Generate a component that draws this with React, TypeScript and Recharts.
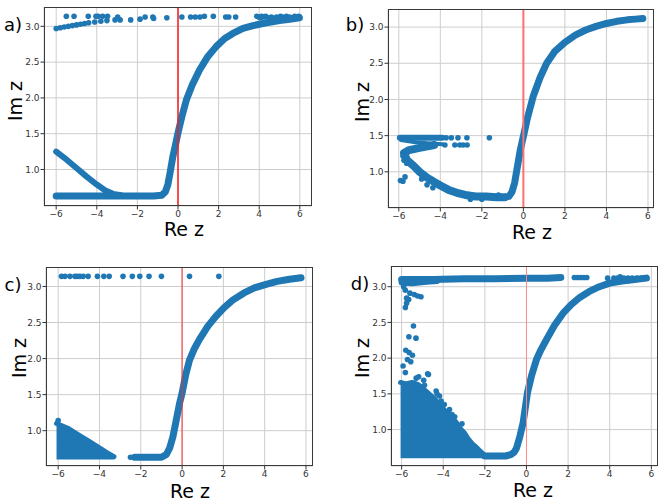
import React from 'react';
import {
  ComposedChart, Line, Area, Scatter, XAxis, YAxis, CartesianGrid, ReferenceLine,
} from 'recharts';

const BLUE = '#1f77b4';
const FONT = '"DejaVu Sans", Verdana, sans-serif';

const xTicks = [-6, -4, -2, 0, 2, 4, 6];
const yTicks = [1.0, 1.5, 2.0, 2.5, 3.0];

// ---- panel a ----
const sigA = [[-6, 0.63], [-4.5, 0.63], [-3, 0.63], [-2, 0.63], [-1.2, 0.63], [-0.8, 0.64], [-0.62, 0.69], [-0.5, 0.79], [-0.38, 0.97], [-0.26, 1.17], [-0.12, 1.35], [0, 1.51], [0.2, 1.75], [0.41, 1.97], [0.7, 2.18], [1.06, 2.39], [1.45, 2.57], [1.89, 2.72], [2.3, 2.83], [2.7, 2.9], [3.2, 2.97], [3.7, 3.01], [4.36, 3.05], [5.0, 3.08], [5.5, 3.1], [5.98, 3.12]];
const fallA = [[-6, 1.25], [-5.5, 1.14], [-5, 1.02], [-4.5, 0.9], [-4, 0.79], [-3.6, 0.71], [-3.2, 0.66], [-2.8, 0.64]];
const dotsA = [
  [-6.0, 2.97], [-5.8, 2.98], [-5.6, 2.99], [-5.4, 3.0], [-5.2, 3.01], [-5.0, 3.02], [-4.8, 3.03], [-4.6, 3.04], [-4.4, 3.05], [-4.1, 3.06], [-3.8, 3.07], [-3.5, 3.08], [-3.1, 3.09], [-2.85, 3.09], [-2.33, 3.09], [-1.87, 3.1],
  [-5.5, 3.14], [-5.12, 3.14], [-4.42, 3.14], [-4.04, 3.14], [-3.93, 3.14], [-3.71, 3.14], [-3.47, 3.14], [-2.97, 3.13], [-1.62, 3.13], [-1.24, 3.13], [-1.2, 3.11], [-0.55, 3.12], [0.19, 3.13], [0.62, 3.13], [0.85, 3.13], [1.08, 3.13], [1.3, 3.14], [1.74, 3.14], [2.35, 3.13], [2.5, 3.13], [2.84, 3.13],
  [3.88, 3.14], [3.98, 3.13], [4.05, 3.12], [4.12, 3.14], [4.22, 3.13], [4.32, 3.14], [4.45, 3.12], [4.6, 3.13], [4.85, 3.13], [5.05, 3.14], [5.15, 3.13], [5.34, 3.14], [5.5, 3.13], [5.75, 3.14], [5.95, 3.14],
];

// ---- panel b ----
const topB = [[-5.95, 1.47], [-4.6, 1.47], [-3.9, 1.47]];
const armB = [[-5.9, 1.44], [-5.2, 1.41], [-4.5, 1.39], [-3.9, 1.38]];
const hookB = [[-4.3, 1.37], [-5.0, 1.33], [-5.5, 1.3], [-5.75, 1.26], [-5.6, 1.16], [-5.28, 1.08], [-5.0, 1.0], [-4.64, 0.92], [-4.3, 0.86], [-4.0, 0.81], [-3.6, 0.75], [-3.2, 0.71], [-2.8, 0.68], [-2.3, 0.66], [-1.8, 0.66], [-1.3, 0.65], [-0.9, 0.65]];
const sigB = [[-0.9, 0.65], [-0.7, 0.66], [-0.55, 0.72], [-0.42, 0.85], [-0.3, 1.05], [-0.15, 1.3], [0, 1.49], [0.2, 1.75], [0.47, 2.04], [0.8, 2.3], [1.12, 2.5], [1.5, 2.66], [2.0, 2.79], [2.5, 2.89], [3.0, 2.96], [3.5, 3.01], [4.0, 3.05], [4.5, 3.08], [5.0, 3.1], [5.4, 3.11], [5.75, 3.12]];
const dotsB = [
  [-3.72, 1.47], [-3.47, 1.47], [-3.15, 1.47], [-2.72, 1.47], [-1.64, 1.47],
  [-3.78, 1.37], [-3.3, 1.37], [-3.06, 1.37], [-2.9, 1.37], [-2.71, 1.37],
  [-5.8, 1.22], [-5.75, 1.16], [-5.62, 1.12],
  [-5.92, 0.88], [-5.8, 0.87], [-5.7, 0.93], [-4.64, 0.82], [-4.36, 0.78], [-4.9, 0.9],
  [-2.55, 0.62], [-2.0, 0.62], [-1.2, 0.68],
];

// ---- panel c ----
const sigC = [[-2.3, 0.63], [-1.5, 0.63], [-1.0, 0.63], [-0.76, 0.67], [-0.6, 0.76], [-0.44, 0.92], [-0.28, 1.15], [-0.12, 1.38], [0, 1.52], [0.18, 1.78], [0.36, 1.98], [0.6, 2.14], [0.85, 2.27], [1.25, 2.45], [1.65, 2.59], [2.05, 2.71], [2.45, 2.81], [3.0, 2.91], [3.5, 2.98], [4.07, 3.03], [4.6, 3.07], [5.2, 3.1], [5.76, 3.12]];
const triC = [[-6.08, 1.1], [-5.5, 1.03], [-5.0, 0.94], [-4.5, 0.85], [-4.0, 0.76], [-3.6, 0.69], [-3.3, 0.64]];
const dotsC = [
  [-5.84, 3.14], [-5.67, 3.14], [-5.43, 3.14], [-5.19, 3.14], [-5.08, 3.14], [-4.95, 3.14], [-4.79, 3.14], [-4.55, 3.14], [-4.1, 3.14], [-3.79, 3.14], [-3.53, 3.14], [-2.86, 3.14], [-2.41, 3.14], [-2.05, 3.14], [-1.6, 3.14], [-1.0, 3.14], [0.36, 3.14], [1.78, 3.14],
  [-6.0, 1.14], [-2.5, 0.63],
];

// ---- panel d ----
const sigD = [[-2.0, 0.63], [-1.5, 0.63], [-1.0, 0.63], [-0.75, 0.65], [-0.6, 0.68], [-0.48, 0.74], [-0.32, 0.9], [-0.16, 1.1], [0.05, 1.52], [0.25, 1.76], [0.48, 1.98], [0.7, 2.12], [0.96, 2.26], [1.35, 2.46], [1.76, 2.63], [2.15, 2.75], [2.56, 2.85], [3.0, 2.93], [3.5, 3.0], [4.0, 3.05], [4.6, 3.08], [5.2, 3.1], [5.76, 3.12]];
const bandD = [[-6.0, 3.1], [-4.5, 3.1], [-3.0, 3.11], [-1.5, 3.11], [0, 3.12], [1.0, 3.12], [1.65, 3.13]];
const bandLowD = [[-6.0, 3.06], [-5.5, 3.05], [-4.8, 3.07], [-4.3, 3.08]];
const blobD = [[-6.05, 1.66], [-5.8, 1.64], [-5.5, 1.66], [-5.2, 1.63], [-5.0, 1.58], [-4.8, 1.53], [-4.6, 1.48], [-4.4, 1.43], [-4.2, 1.35], [-4.0, 1.29], [-3.8, 1.23], [-3.6, 1.17], [-3.4, 1.11], [-3.2, 1.02], [-3.0, 0.96], [-2.8, 0.87], [-2.6, 0.8], [-2.4, 0.75], [-2.2, 0.69], [-2.0, 0.64]];
const dotsD = [
  [2.3, 3.13], [2.45, 3.13], [2.6, 3.13], [2.75, 3.13], [2.9, 3.13], [3.9, 3.12], [4.2, 3.12], [4.38, 3.12], [4.5, 3.14], [4.68, 3.12], [4.88, 3.12], [5.08, 3.12], [5.3, 3.12], [5.55, 3.12], [5.77, 3.12],
  [-5.9, 3.0], [-5.82, 2.95], [-5.76, 2.84], [-5.6, 2.91], [-5.66, 2.82], [-5.76, 2.77], [-5.82, 2.71], [-5.39, 2.89], [-5.23, 2.87], [-5.07, 2.86],
  [-5.43, 2.45], [-5.65, 2.3], [-5.31, 2.28],
  [-5.8, 2.11], [-5.64, 2.08], [-5.48, 2.04], [-5.72, 1.98], [-5.56, 1.95], [-5.93, 1.89], [-5.82, 1.8],
  [-4.75, 1.78], [-4.71, 1.77], [-4.94, 1.69], [-5.18, 1.74], [-5.3, 1.72], [-4.9, 1.62],
  [-4.34, 1.54], [-4.18, 1.47], [-4.1, 1.4], [-4.3, 1.5], [-3.95, 1.35], [-3.7, 1.28], [-3.58, 1.21], [-3.45, 1.18], [-3.1, 1.08],
];

const pts = (arr: number[][]) => arr.map(([x, y]) => ({ x, y }));
const fmtX = (v: number) => (v < 0 ? `\u2212${Math.abs(v)}` : String(v));
const tickStyle = { fontSize: 9, fill: '#333', fontFamily: FONT };

type Band = { data: number[][]; w: number };

function Panel({ box, xDomain, yDomain, bands, areas = [], dots, red, redW }: any) {
  return (
    <div style={{ position: 'absolute', left: box.left - 40, top: box.top }}>
      <ComposedChart width={box.width + 40} height={box.height + 20} margin={{ top: 0, right: 0, bottom: 0, left: 0 }}>
        <CartesianGrid stroke="#cdcdcd" />
        <XAxis
          type="number" dataKey="x" domain={xDomain} ticks={xTicks} tickFormatter={fmtX}
          tick={tickStyle} tickSize={3.5} tickMargin={1} axisLine={false}
          tickLine={{ stroke: '#333' }} height={20} interval={0}
        />
        <YAxis
          type="number" dataKey="y" domain={yDomain} ticks={yTicks}
          tickFormatter={(v: number) => v.toFixed(1)}
          tick={tickStyle} tickSize={3.5} tickMargin={1} axisLine={false}
          tickLine={{ stroke: '#333' }} width={40} interval={0}
        />
        {areas.map((a: any, i: number) => (
          <Area
            key={'a' + i} data={pts(a.data)} dataKey="y" type="linear" baseValue={a.base}
            stroke={BLUE} strokeWidth={5} strokeLinejoin="round" strokeLinecap="round"
            fill={BLUE} fillOpacity={1} dot={false} activeDot={false} isAnimationActive={false}
          />
        ))}
        {bands.map((b: Band, i: number) => (
          <Line
            key={'l' + i} data={pts(b.data)} dataKey="y" type="linear"
            stroke={BLUE} strokeWidth={b.w} strokeLinecap="round" strokeLinejoin="round"
            dot={false} activeDot={false} isAnimationActive={false}
          />
        ))}
        <Scatter
          data={pts(dots)} dataKey="y" isAnimationActive={false}
          shape={(p: any) => <circle cx={p.cx} cy={p.cy} r={2.8} fill={BLUE} />}
        />
        <ReferenceLine x={0} stroke={red} strokeWidth={redW} />
      </ComposedChart>
      <div
        style={{
          position: 'absolute', left: 40, top: 0, width: box.width, height: box.height,
          border: '1px solid #3a3a3a', boxSizing: 'border-box', pointerEvents: 'none',
        }}
      />
    </div>
  );
}

function Label({ text, x, y, rotate = false, size = 18 }: any) {
  return (
    <div
      style={{
        position: 'absolute', left: x, top: y, fontFamily: FONT, fontSize: size, lineHeight: 1,
        whiteSpace: 'nowrap', color: '#000',
        transform: `translate(-50%, -50%)${rotate ? ' rotate(-90deg)' : ''}`,
      }}
    >
      {text}
    </div>
  );
}

export default function App() {
  return (
    <div style={{ position: 'absolute', left: 0, top: 0, width: 664, height: 504, background: '#fff', overflow: 'hidden' }}>
      <Panel
        box={{ left: 44, top: 7, width: 268, height: 199 }} xDomain={[-6.6, 6.6]} yDomain={[0.49, 3.27]}
        bands={[{ data: sigA, w: 7 }, { data: fallA, w: 6 }]} dots={dotsA} red="#ff1a1a" redW={1.5}
      />
      <Panel
        box={{ left: 388, top: 9, width: 266, height: 199 }} xDomain={[-6.52, 6.29]} yDomain={[0.5, 3.25]}
        bands={[{ data: topB, w: 6 }, { data: armB, w: 4 }, { data: hookB, w: 8 }, { data: sigB, w: 7 }]}
        dots={dotsB} red="#ff7070" redW={2}
      />
      <Panel
        box={{ left: 46, top: 267, width: 267, height: 199 }} xDomain={[-6.59, 6.34]} yDomain={[0.51, 3.27]}
        bands={[{ data: sigC, w: 7 }]} areas={[{ data: triC, base: 0.6 }]} dots={dotsC} red="#ff2a2a" redW={1}
      />
      <Panel
        box={{ left: 391, top: 266, width: 267, height: 200 }} xDomain={[-6.51, 6.32]} yDomain={[0.49, 3.29]}
        bands={[{ data: bandD, w: 7 }, { data: bandLowD, w: 6 }, { data: sigD, w: 7 }]}
        areas={[{ data: blobD, base: 0.6 }]} dots={dotsD} red="#ff8a8a" redW={1}
      />

      <Label text="a)" x={13} y={25} />
      <Label text="Im z" x={15} y={101} rotate size={19} />
      <Label text="Re z" x={184} y={229} size={19} />

      <Label text="b)" x={355} y={25} />
      <Label text="Im z" x={362} y={102} rotate size={19} />
      <Label text="Re z" x={532} y={232} size={19} />

      <Label text="c)" x={13} y={285} />
      <Label text="Im z" x={19} y={358} rotate size={19} />
      <Label text="Re z" x={190} y={491} size={19} />

      <Label text="d)" x={360} y={284} />
      <Label text="Im z" x={362} y={358} rotate size={19} />
      <Label text="Re z" x={533} y={490} size={19} />
    </div>
  );
}
